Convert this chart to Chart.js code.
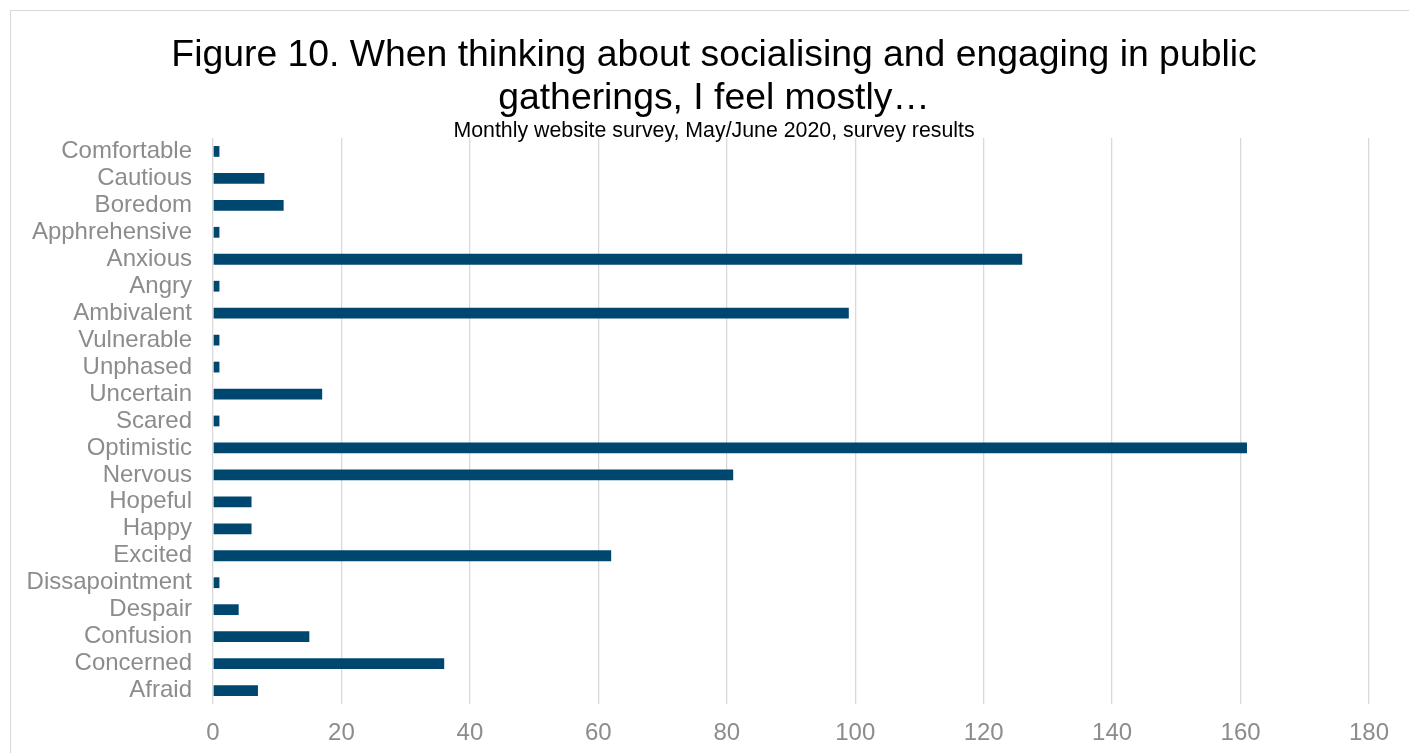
<!DOCTYPE html>
<html>
<head>
<meta charset="utf-8">
<title>Figure 10</title>
<script src="https://cdn.jsdelivr.net/npm/chart.js@4"></script>
<style>
    html, body { margin: 0; padding: 0; background: #fff; overflow: hidden; }
    #frame {
        position: absolute; left: 10px; top: 10px;
        width: 1410px; height: 760px;
        border: 1px solid #d9d9d9; background: #fff;
    }
    #wrap { position: absolute; left: 0; top: 0; width: 1406px; height: 742px; }
</style>
</head>
<body>
<div id="frame"><div id="wrap"><canvas id="chart-area"></canvas></div></div>
<script>

var feelings = ['Comfortable', 'Cautious', 'Boredom', 'Apphrehensive', 'Anxious', 'Angry',
    'Ambivalent', 'Vulnerable', 'Unphased', 'Uncertain', 'Scared', 'Optimistic', 'Nervous',
    'Hopeful', 'Happy', 'Excited', 'Dissapointment', 'Despair', 'Confusion', 'Concerned', 'Afraid'];
var responses = [1, 8, 11, 1, 126, 1, 99, 1, 1, 17, 1, 161, 81, 6, 6, 62, 1, 4, 15, 36, 7];
var xTicks = [0, 20, 40, 60, 80, 100, 120, 140, 160, 180];

var titleLines = ['Figure 10. When thinking about socialising and engaging in public',
    'gatherings, I feel mostly\u2026'];
var subtitleText = 'Monthly website survey, May/June 2020, survey results';

// centre title + subtitle on the whole canvas, not on the padded area
var centreTitles = {
    id: 'centreTitles',
    afterLayout: function (chart) {
        chart.boxes.forEach(function (box) {
            if (box.options && box.options.text !== undefined && box.position === 'top') {
                box.left = 0;
                box.right = chart.width;
            }
        });
    }
};

window.onload = function () {
    var font = "'Liberation Sans', Arial, sans-serif";
    var grey = '#8c8c8c';

    var config = {
        type: 'bar',
        data: {
            labels: feelings,
            datasets: [{
                label: 'Responses',
                data: responses,
                backgroundColor: '#00476f',
                borderWidth: 0,
                barPercentage: 0.4,
                categoryPercentage: 1
            }]
        },
        options: {
            indexAxis: 'y',
            responsive: true,
            maintainAspectRatio: false,
            animation: false,
            layout: { padding: { left: 16, right: 48, top: 0, bottom: 0 } },
            plugins: {
                legend: { display: false },
                tooltip: { enabled: false },
                title: {
                    display: true,
                    text: titleLines,
                    color: '#000',
                    font: { family: font, size: 37.33, weight: 'normal', lineHeight: 1.15 },
                    padding: { top: 23.5, bottom: -2 }
                },
                subtitle: {
                    display: true,
                    text: subtitleText,
                    color: '#000',
                    font: { family: font, size: 21.33, weight: 'normal', lineHeight: 1.2 },
                    padding: { top: 0, bottom: -6 }
                }
            },
            scales: {
                x: {
                    min: 0,
                    max: 180,
                    afterBuildTicks: function (axis) {
                        axis.ticks = xTicks.map(function (v) { return { value: v }; });
                    },
                    afterFit: function (axis) { axis.height = 49; },
                    grid: { color: '#d9d9d9', lineWidth: 1.3, drawTicks: false },
                    border: { display: false },
                    ticks: { color: grey, padding: 15, font: { family: font, size: 24 } }
                },
                y: {
                    afterFit: function (axis) { axis.width = 186; },
                    grid: { display: false, drawTicks: false },
                    border: { display: false },
                    ticks: { color: grey, padding: 21, autoSkip: false, font: { family: font, size: 24 } }
                }
            }
        },
        plugins: [centreTitles]
    };

    var ctx = document.getElementById('chart-area').getContext('2d');
    window.myBar = new Chart(ctx, config);
};
</script>
</body>
</html>
